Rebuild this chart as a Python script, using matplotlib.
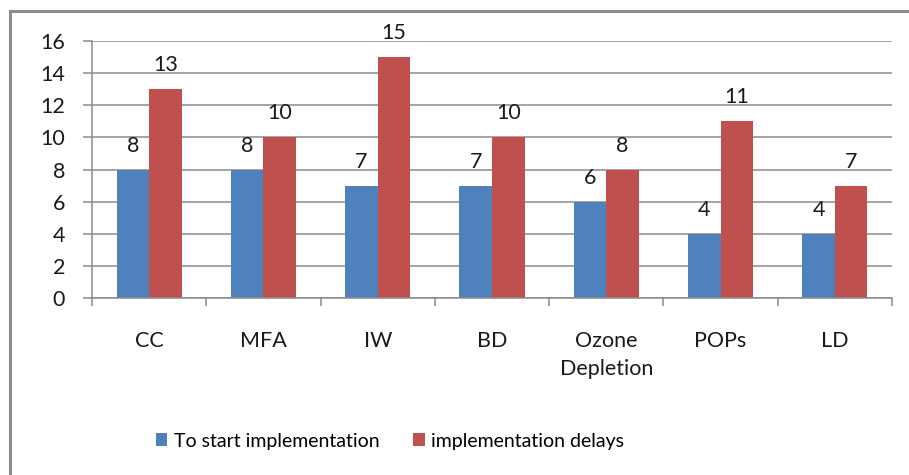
import numpy as np
import matplotlib.pyplot as plt
from matplotlib.patches import Rectangle

categories = ['CC', 'MFA', 'IW', 'BD', 'Ozone\nDepletion', 'POPs', 'LD']
start_impl = [8, 8, 7, 7, 6, 4, 4]
impl_delays = [13, 10, 15, 10, 8, 11, 7]

plt.rcParams['font.family'] = ['Lato', 'DejaVu Sans']

fig = plt.figure(figsize=(9.09, 4.75), dpi=100)
ax = fig.add_axes([0.1012, 0.3726, 0.8801, 0.5411])

# chart area frame
fig.patches.append(Rectangle((0.0115, -0.05), 1.2, 1 - 0.0232 + 0.05,
                             transform=fig.transFigure, fill=False,
                             edgecolor='#8c8c8c', linewidth=2.2))

x = np.arange(len(categories))
w = 0.285
b1 = ax.bar(x - w / 2, start_impl, w, color='#4F81BD', label='To start implementation', zorder=2)
b2 = ax.bar(x + w / 2, impl_delays, w, color='#C0504D', label='implementation delays', zorder=2)

for bars in (b1, b2):
    for r in bars:
        ax.annotate(f'{r.get_height():g}', (r.get_x() + r.get_width() / 2, r.get_height()),
                    xytext=(0, 10), textcoords='offset points', ha='center', va='bottom',
                    fontsize=15.5, color='#1a1a1a')

ax.set_xlim(-0.5, len(categories) - 0.5)
ax.set_ylim(0, 16)
ax.set_yticks(range(0, 17, 2))
ax.yaxis.grid(True, color='#8c8c8c', linewidth=1.1, zorder=0)
ax.set_axisbelow(True)

ax.set_xticks(x)
ax.set_xticklabels(categories, fontsize=15.5, color='#1a1a1a', linespacing=1.45)
ax.set_xticks(np.arange(-0.5, len(categories)), minor=True)
ax.tick_params(axis='x', which='major', length=0, pad=24)
ax.tick_params(axis='x', which='minor', length=6, color='#8c8c8c', width=1.1)
ax.tick_params(axis='y', length=6.5, color='#8c8c8c', width=1.1, labelsize=15.5,
               labelcolor='#1a1a1a', pad=13)

for s in ('top', 'right'):
    ax.spines[s].set_visible(False)
for s in ('left', 'bottom'):
    ax.spines[s].set_color('#8c8c8c')
    ax.spines[s].set_linewidth(1.1)

fig.legend(handles=[b1, b2], loc='center', bbox_to_anchor=(390 / 909, 1 - 441 / 475),
           ncol=2, frameon=False, fontsize=14, handlelength=0.6, handleheight=0.6,
           handletextpad=0.35, columnspacing=1.7)

fig.savefig('out.png', dpi=100)
